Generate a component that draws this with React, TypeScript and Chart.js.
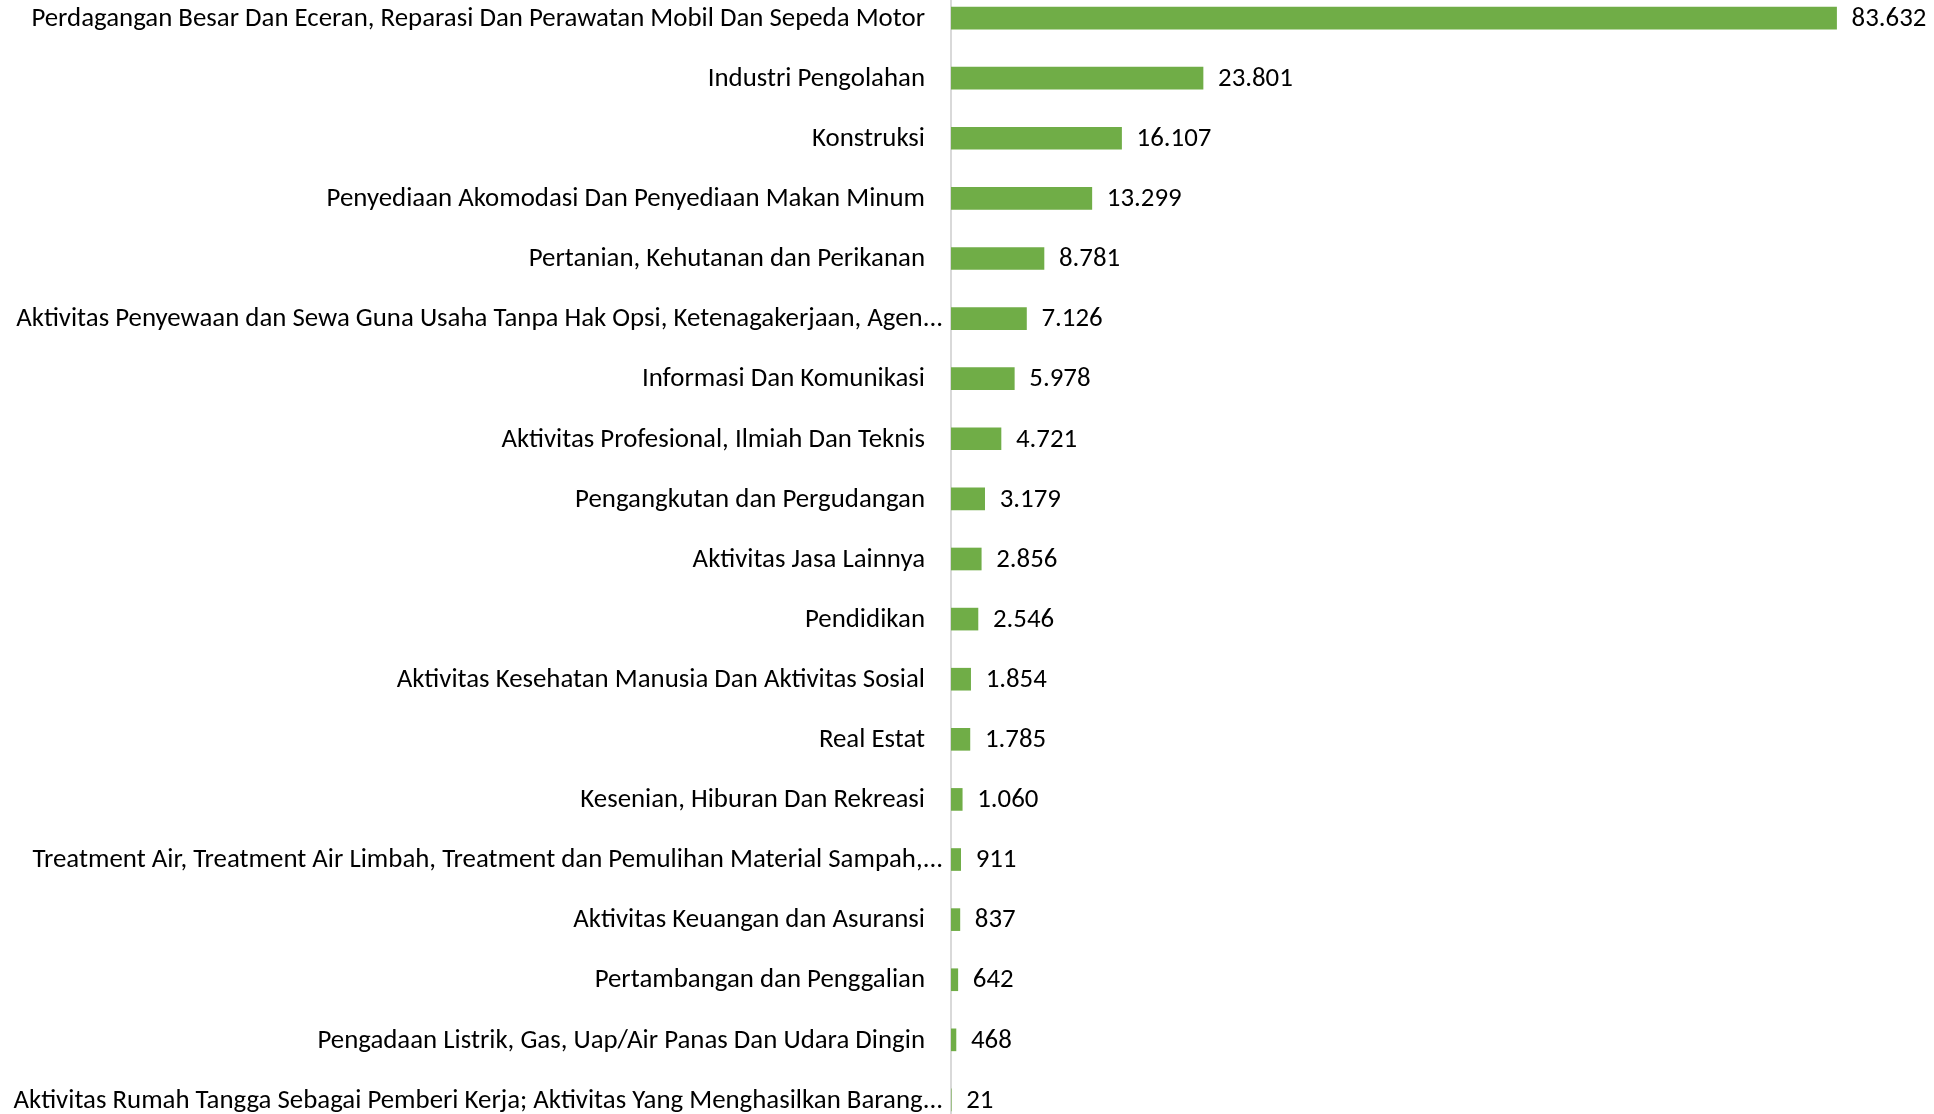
import React, { useEffect, useRef } from "react";
import { Chart, registerables } from "chart.js";

Chart.register(...registerables);

const categories: string[] = [
  "Perdagangan Besar Dan Eceran, Reparasi Dan Perawatan Mobil Dan Sepeda Motor",
  "Industri Pengolahan",
  "Konstruksi",
  "Penyediaan Akomodasi Dan Penyediaan Makan Minum",
  "Pertanian, Kehutanan dan Perikanan",
  "Aktivitas Penyewaan dan Sewa Guna Usaha Tanpa Hak Opsi, Ketenagakerjaan, Agen...",
  "Informasi Dan Komunikasi",
  "Aktivitas Profesional, Ilmiah Dan Teknis",
  "Pengangkutan dan Pergudangan",
  "Aktivitas Jasa Lainnya",
  "Pendidikan",
  "Aktivitas Kesehatan Manusia Dan Aktivitas Sosial",
  "Real Estat",
  "Kesenian, Hiburan Dan Rekreasi",
  "Treatment Air, Treatment Air Limbah, Treatment dan Pemulihan Material Sampah,...",
  "Aktivitas Keuangan dan Asuransi",
  "Pertambangan dan Penggalian",
  "Pengadaan Listrik, Gas, Uap/Air Panas Dan Udara Dingin",
  "Aktivitas Rumah Tangga Sebagai Pemberi Kerja; Aktivitas Yang Menghasilkan Barang...",
];

const values: number[] = [
  83632, 23801, 16107, 13299, 8781, 7126, 5978, 4721, 3179, 2856, 2546, 1854,
  1785, 1060, 911, 837, 642, 468, 21,
];

const FONT_FAMILY = "Carlito, Calibri, 'Open Sans', sans-serif";
const FONT_SIZE = 26.85;

const fmt = (v: number) => v.toLocaleString("de-DE");

const textLabels = {
  id: "textLabels",
  afterDatasetsDraw(chart: any) {
    const ctx = chart.ctx;
    const meta = chart.getDatasetMeta(0);
    const yScale = chart.scales.y;
    ctx.save();
    ctx.font = `${FONT_SIZE}px ${FONT_FAMILY}`;
    ctx.fillStyle = "#000000";
    ctx.textBaseline = "middle";
    // category labels (right aligned next to the axis)
    ctx.textAlign = "right";
    chart.data.labels.forEach((lab: string, i: number) => {
      const y = yScale.getPixelForValue(i);
      const truncated = lab.endsWith("...");
      const x = yScale.right - (truncated ? 8 : 26);
      ctx.fillText(lab, x, y + 1);
    });
    // value labels
    ctx.textAlign = "left";
    meta.data.forEach((bar: any, i: number) => {
      const v = chart.data.datasets[0].data[i];
      ctx.fillText(fmt(v), bar.x + 15, bar.y + 1);
    });
    ctx.restore();
  },
};

export default function App() {
  const ref = useRef<HTMLCanvasElement | null>(null);
  useEffect(() => {
    if (!ref.current) return;
    const chart = new Chart(ref.current, {
      type: "bar",
      data: {
        labels: categories,
        datasets: [
          {
            data: values,
            backgroundColor: "#70AD47",
            borderWidth: 0,
            barThickness: 22,
          },
        ],
      },
      options: {
        indexAxis: "y",
        animation: false,
        responsive: false,
        maintainAspectRatio: false,
        layout: { padding: { left: 0, right: 30, top: 0, bottom: 0 } },
        plugins: {
          legend: { display: false },
          tooltip: { enabled: false },
        },
        scales: {
          x: {
            display: false,
            min: 0,
            max: 90000,
          },
          y: {
            afterFit: (s: any) => {
              s.width = 951;
              s.paddingTop = 0;
              s.paddingBottom = 0;
            },
            grid: { display: false, drawTicks: false },
            border: { display: true, color: "#d9d9d9", width: 2 },
            ticks: {
              display: false,
              autoSkip: false,
            },
          },
        },
      },
      plugins: [textLabels],
    });
    return () => chart.destroy();
  }, []);
  return (
    <div
      style={{
        position: "fixed",
        left: 0,
        top: 0,
        width: 1934,
        height: 1114,
        overflow: "hidden",
        background: "#ffffff",
      }}
    >
      <canvas
        ref={ref}
        width={1934}
        height={1142}
        style={{ position: "absolute", left: 0, top: -12, width: 1934, height: 1142 }}
      />
    </div>
  );
}
